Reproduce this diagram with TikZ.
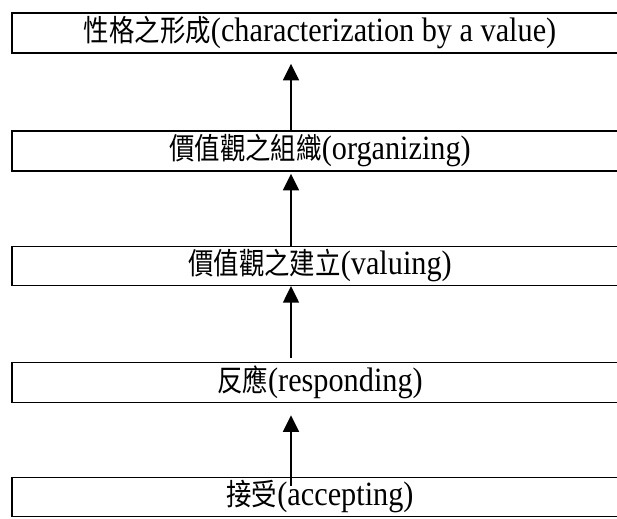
\documentclass[tikz,border=0pt]{standalone}
\usepackage{fontspec}
\setmainfont[FakeStretch=0.89]{Liberation Serif}
\newfontfamily\cjk[Scale=0.88,FakeStretch=0.85]{Noto Sans CJK TC}
\usetikzlibrary{arrows.meta,calc}
\begin{document}
\begin{tikzpicture}[x=0.75pt,y=-0.75pt,
  level/.style={draw, line width=1.1pt, rectangle, minimum width=462pt,
    minimum height=30pt, inner sep=0pt, font=\fontsize{25.5pt}{30pt}\selectfont},
  up/.style={line width=1.3pt, -{Triangle[width=12pt,length=12.5pt]}}]
\useasboundingbox (0,0) rectangle (617,518);
\clip (0,0) rectangle (617,518);
\node[level] (b1) at (320,33) {{\cjk 性格之形成}(characterization by a value)};
\node[level] (b2) at (320,151) {{\cjk 價值觀之組織}(organizing)};
\node[level, minimum height=29pt] (b3) at (320,266) {{\cjk 價值觀之建立}(valuing)};
\node[level] (b4) at (320,382.5) {{\cjk 反應}(responding)};
\node[level, minimum height=29pt] (b5) at (320,497) {{\cjk 接受}(accepting)};
\coordinate (ax) at (291,0);
\draw[up] (b2.north -| ax) -- ($(b1.south -| ax)+(0,10)$);
\draw[up] (b3.north -| ax) -- ($(b2.south -| ax)+(0,2)$);
\draw[up] ($(b4.north -| ax)+(0,-4)$) -- (b3.south -| ax);
\draw[up] ($(b5.north -| ax)+(0,9)$) -- ($(b4.south -| ax)+(0,12)$);
\end{tikzpicture}
\end{document}
